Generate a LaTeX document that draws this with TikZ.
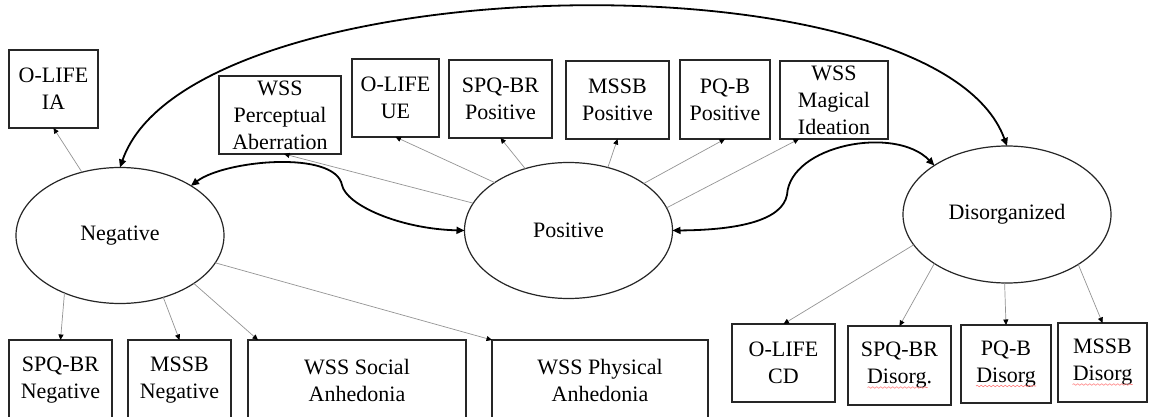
\documentclass[tikz,border=0pt]{standalone}
\usepackage{fontspec}
\setmainfont{Liberation Serif}
\usetikzlibrary{arrows.meta,calc,shapes.geometric,decorations.pathmorphing}
\begin{document}
\begin{tikzpicture}[x=1pt,y=-1pt,
  every node/.style={font=\fontsize{22}{27}\selectfont},
  box/.style={draw=black!85, line width=1.2pt, rectangle, inner sep=0pt, outer sep=0pt, align=center},
  latent/.style={draw=black!85, line width=1.2pt, ellipse, minimum width=208pt, minimum height=136pt, inner sep=0pt, outer sep=0pt},
  load/.style={draw=black!42, line width=0.7pt, -{Triangle[length=5.5pt,width=5pt,color=black]}},
  cov/.style={draw=black, line width=1.8pt, {Triangle[length=8pt,width=7pt]}-{Triangle[length=8pt,width=7pt]}},
  squig/.style={draw=red!50, line width=0.6pt, decorate, decoration={snake, amplitude=0.8pt, segment length=4pt}}
]
\useasboundingbox (0,0) rectangle (1149,417);
\clip (0,0) rectangle (1149,417);
\fill[white] (0,0) rectangle (1149,417);

% latent factors
\node[latent] (neg) at (120,235.5) {Negative};
\node[latent] (pos) at (568.5,230.5) {Positive};
\node[latent, minimum height=137pt] (dis) at (1007,214.5) {Disorganized};

% top indicators
\node[box, minimum width=89pt, minimum height=78pt] (ia) at (53.5,89) {O-LIFE\\IA};
\node[box, minimum width=122pt, minimum height=78pt] (wpe) at (280,115) {WSS\\Perceptual\\Aberration};
\node[box, minimum width=87pt, minimum height=78pt] (ue) at (395.5,98) {O-LIFE\\UE};
\node[box, minimum width=103pt, minimum height=78pt] (spp) at (500.5,99) {SPQ-BR\\Positive};
\node[box, minimum width=103pt, minimum height=78pt] (msp) at (617.5,100) {MSSB\\Positive};
\node[box, minimum width=90pt, minimum height=79pt] (pqp) at (725,99.5) {PQ-B\\Positive};
\node[box, minimum width=108pt, minimum height=78pt] (wmi) at (834,100) {WSS\\Magical\\Ideation};

% bottom indicators
\node[box, minimum width=103pt, minimum height=80pt] (snn) at (60.5,380) {SPQ-BR\\Negative};
\node[box, minimum width=103pt, minimum height=80pt] (msn) at (179.5,380) {MSSB\\Negative};
\node[box, minimum width=218pt, minimum height=80pt] (wsa) at (357,380) {WSS Social\\Anhedonia};
\node[box, minimum width=216pt, minimum height=80pt] (wpa) at (600,380) {WSS Physical\\Anhedonia};
\node[box, minimum width=103pt, minimum height=78pt] (cd) at (783.5,363) {O-LIFE\\CD};
\node[box, minimum width=103pt, minimum height=79pt] (spd) at (899.5,365.5) {SPQ-BR\\Disorg.};
\node[box, minimum width=90pt, minimum height=78pt] (pqd) at (1006,364) {PQ-B\\Disorg};
\node[box, minimum width=89pt, minimum height=79pt] (msd) at (1102.5,362.5) {MSSB\\Disorg};

% spell-check squiggles
\draw[squig] ($(spd.center)+(-32,22)$) -- ($(spd.center)+(28,22)$);
\draw[squig] ($(pqd.center)+(-30,22)$) -- ($(pqd.center)+(30,22)$);
\draw[squig] ($(msd.center)+(-30,22)$) -- ($(msd.center)+(30,22)$);

% loadings
\draw[load] (neg.121) -- (ia.south);
\draw[load] (neg.226) -- (snn.north);
\draw[load] (neg.305) -- (msn.north);
\draw[load] (neg.327) -- ($(wsa.north west)+(10,0)$);
\draw[load] (neg.344) -- (wpa.north west);
\draw[load] (pos.164) -- ($(wpe.south)+(4,0)$);
\draw[load] (pos.147) -- (ue.south);
\draw[load] (pos.125) -- (spp.south);
\draw[load] (pos.58) -- (msp.south);
\draw[load] (pos.32) -- (pqp.south);
\draw[load] (pos.13) -- ($(wmi.south west)+(19,0)$);
\draw[load] (dis.198) -- (cd.north);
\draw[load] (dis.214) -- (spd.north);
\draw[load] (dis.268) -- (pqd.north);
\draw[load] (dis.325) -- (msd.north);

% factor covariances
\draw[cov] (neg.north) .. controls (190,-35) and (936,-50) .. (dis.north);
\draw[cov] (neg.35) .. controls (225,160) and (335,150) .. (342,185)
  .. controls (346,205) and (400,229) .. (pos.west);
\draw[cov] (pos.east) .. controls (740,230) and (782,220) .. (787,195)
  .. controls (790,145) and (895,125) .. (dis.146);
\end{tikzpicture}
\end{document}
